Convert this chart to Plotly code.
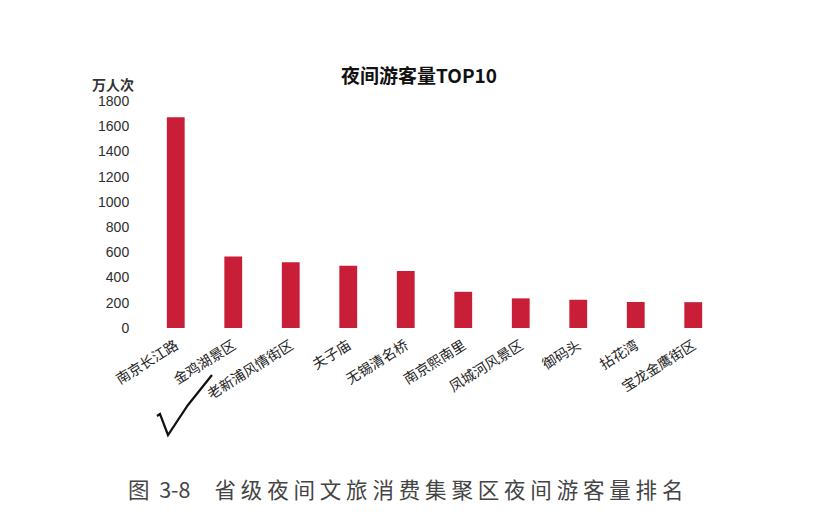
import plotly.graph_objects as go

categories = ["南京长江路", "金鸡湖景区", "老新浦风情街区", "夫子庙", "无锡清名桥",
              "南京熙南里", "凤城河风景区", "御码头", "拈花湾", "宝龙金鹰街区"]
visitors = [1672, 567, 522, 493, 452, 287, 235, 224, 206, 205]
y_ticks = [0, 200, 400, 600, 800, 1000, 1200, 1400, 1600, 1800]

title_text = "夜间游客量TOP10"
unit_text = "万人次"
NB = "\u00a0"
caption_text = "图" + NB * 2 + "3-8" + NB * 5 + NB.join("省级夜间文旅消费集聚区夜间游客量排名")

OFF = 8  # page body margin in the browser
W, H = 832 - OFF, 527 - OFF
L, R, T, B = 147 - OFF, 110, 101 - OFF, 199

fig = go.Figure()
fig.add_trace(go.Bar(
    x=categories, y=visitors,
    marker=dict(color="#C81E38", line=dict(width=0)),
    width=0.31,
))

cjk = "Noto Sans CJK SC"
fig.update_layout(
    width=W, height=H,
    margin=dict(l=L, r=R, t=T, b=B, pad=0),
    paper_bgcolor="white", plot_bgcolor="white",
    showlegend=False,
    font=dict(family=cjk, color="#333333"),
)
fig.update_yaxes(
    range=[0, 1800], tickvals=y_ticks, showgrid=False, zeroline=False,
    showline=False, ticks="outside", ticklen=14, tickcolor="rgba(0,0,0,0)",
    tickfont=dict(family="Liberation Sans", size=14, color="#2e2e2e"),
)
fig.update_xaxes(
    showgrid=False, showline=False, zeroline=False,
    ticks="outside", ticklen=3, tickcolor="rgba(0,0,0,0)",
    tickangle=-32, range=[-0.5, 9.5],
    tickfont=dict(family=cjk, size=14, color="#222222"),
)

def px(xp):
    return (xp - OFF - L) / (W - L - R)

def py(yp):
    return (H - B - (yp - OFF)) / (H - T - B)

fig.add_annotation(text="<b>" + title_text + "</b>", xref="paper", yref="paper",
                   x=px(419), y=py(74), showarrow=False, xanchor="center", yanchor="middle",
                   font=dict(family=cjk, size=19, color="#111111"))
fig.add_annotation(text="<b>" + unit_text + "</b>", xref="paper", yref="paper",
                   x=px(113), y=py(84), showarrow=False, xanchor="center", yanchor="middle",
                   font=dict(family=cjk, size=14, color="#333333"))
fig.add_annotation(text=caption_text, xref="paper", yref="paper",
                   x=px(126), y=py(488), showarrow=False, xanchor="left", yanchor="middle",
                   font=dict(family=cjk, size=21.5, color="#444444"))

# handwritten check mark on the scanned page
pts = [(157, 416), (160, 414), (168, 435), (188, 405), (212, 375)]
path = "M " + " L ".join(f"{px(a):.4f},{py(b):.4f}" for a, b in pts)
fig.add_shape(type="path", path=path, xref="paper", yref="paper",
              line=dict(color="#111111", width=2.2))

fig.write_html("out.html")
